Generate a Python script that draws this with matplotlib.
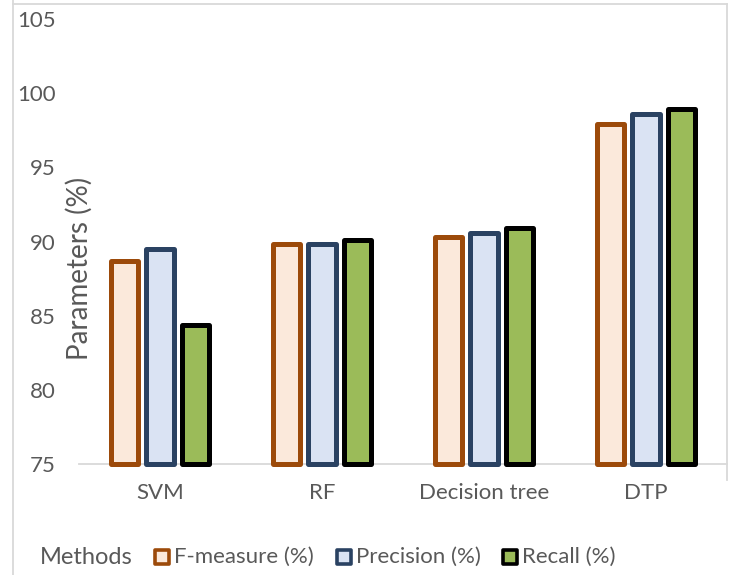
import matplotlib
matplotlib.use("Agg")
import matplotlib.pyplot as plt
import numpy as np
from matplotlib.patches import Rectangle
from matplotlib.lines import Line2D

plt.rcParams['font.family'] = ['Lato', 'DejaVu Sans']

methods = ["SVM", "RF", "Decision tree", "DTP"]
f_measure = [88.7, 89.8, 90.3, 97.9]
precision = [89.5, 89.8, 90.6, 98.6]
recall = [84.4, 90.1, 90.9, 98.9]
series_names = ["F-measure (%)", "Precision (%)", "Recall (%)"]
y_ticks = [75, 80, 85, 90, 95, 100, 105]

fills = ["#FBE9DB", "#DAE3F3", "#9BBB59"]
edges = ["#9C4A0A", "#2A4262", "#000000"]
text_col = "#595959"
grid_col = "#D9D9D9"
fs = 16

W, H = 734, 575
fig = plt.figure(figsize=(W / 100, H / 100), dpi=100)
ax = fig.add_axes([79 / W, 1 - 464 / H, (727 - 79) / W, (464 - 19) / H])

x = np.arange(len(methods))
offset = 0.219
width = 0.17
for i, vals in enumerate([f_measure, precision, recall]):
    ax.bar(x + (i - 1) * offset, np.array(vals) - 75, width, bottom=75,
           color=fills[i], edgecolor=edges[i], linewidth=3.6,
           joinstyle="round", clip_on=False, zorder=3)

ax.set_xlim(-0.5, len(methods) - 0.5)
ax.set_ylim(75, 105)
ax.set_yticks(y_ticks)
ax.set_xticks(x)
ax.set_xticklabels(methods)
ax.tick_params(axis="both", length=0, labelsize=fs, colors=text_col)
ax.tick_params(axis="y", pad=17)
ax.tick_params(axis="x", pad=14)
for s in ["top", "right", "left"]:
    ax.spines[s].set_visible(False)
ax.spines["bottom"].set_color(grid_col)
ax.spines["bottom"].set_linewidth(1.3)
ax.spines["bottom"].set_zorder(2)

ax.set_ylabel("Parameters (%)", fontsize=20, color=text_col)
ax.yaxis.set_label_coords(0.0, 0.44)
ax.yaxis.label.set_va("center")

# chart frame
for xs, ys in [([13, 13], [0, H]), ([13, 727], [H - 4, H - 4]), ([727, 727], [H - 4, H - 480])]:
    fig.add_artist(Line2D(np.array(xs) / W, np.array(ys) / H, color=grid_col, lw=1.3))

# legend row at the bottom
ly = 1 - 557 / H
fig.text(40 / W, ly, "Methods", fontsize=fs + 1, color=text_col, va="center", ha="left")
marker_x = [155, 337, 503]
for i, name in enumerate(series_names):
    sz = 14
    fig.add_artist(Rectangle((marker_x[i] / W, (H - 557 - sz / 2) / H), sz / W, sz / H,
                             facecolor=fills[i], edgecolor=edges[i], linewidth=2.6,
                             joinstyle="round", transform=fig.transFigure))
    fig.text((marker_x[i] + 19) / W, ly, name, fontsize=fs, color=text_col,
             va="center", ha="left")

fig.savefig("out.png", dpi=100)
